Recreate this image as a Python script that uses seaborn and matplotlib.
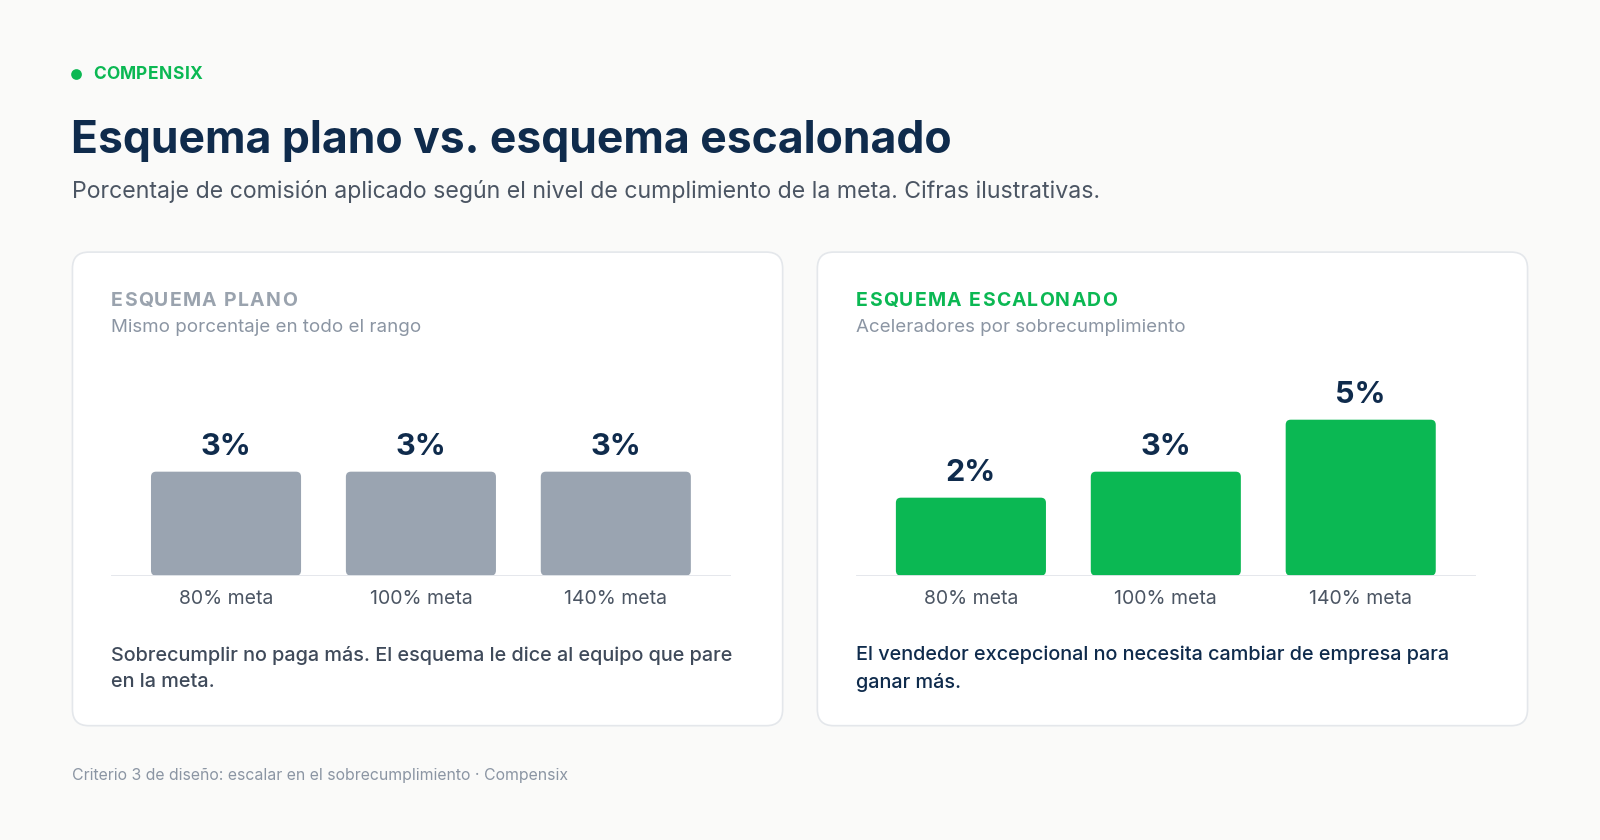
import numpy as np
import pandas as pd
import matplotlib
matplotlib.use("Agg")
import matplotlib.pyplot as plt
import seaborn as sns
from matplotlib.patches import FancyBboxPatch, Ellipse

# ---------------- data ----------------
categories = ["80% meta", "100% meta", "140% meta"]
plano_values = [3, 3, 3]
escalonado_values = [2, 3, 5]
plano_labels = ["3%", "3%", "3%"]
escalonado_labels = ["2%", "3%", "5%"]

brand = "COMPENSIX"
title = "Esquema plano vs. esquema escalonado"
subtitle = "Porcentaje de comisión aplicado según el nivel de cumplimiento de la meta. Cifras ilustrativas."
card_titles = ["ESQUEMA PLANO", "ESQUEMA ESCALONADO"]
card_subs = ["Mismo porcentaje en todo el rango", "Aceleradores por sobrecumplimiento"]
card_notes = ["Sobrecumplir no paga más. El esquema le dice al equipo que pare\nen la meta.",
              "El vendedor excepcional no necesita cambiar de empresa para\nganar más."]
footer = "Criterio 3 de diseño: escalar en el sobrecumplimiento · Compensix"

# ---------------- style ----------------
sns.set_theme(style="white")
plt.rcParams['font.family'] = ['Inter', 'DejaVu Sans']

BG = "#fafaf9"
NAVY = "#0f2b4c"
GREEN = "#0bb853"
GREY_BAR = "#9aa4b1"
SUB = "#4b5563"
MUTED = "#8b95a3"

W, H = 1568.0, 823.0
def fx(x): return x / W
def fy(y): return 1 - y / H

fig = plt.figure(figsize=(16, 8.4), dpi=100)
fig.patch.set_facecolor(BG)
renderer = fig.canvas.get_renderer()


def spaced_text(x, y, s, spacing, **kw):
    """Draw text char by char with extra letter spacing (x, spacing in ref px)."""
    cur = fx(x)
    for ch in s:
        t = fig.text(cur, y, ch, **kw)
        wpx = t.get_window_extent(renderer=renderer).width
        if ch == " ":
            wpx = t.get_fontsize() * 0.28 * 100 / 72
        cur += wpx / 1600 + spacing / W


# header
fig.patches.append(Ellipse((fx(75), fy(73)), 10.5 / W, 10.5 / H,
                           transform=fig.transFigure, facecolor=GREEN, edgecolor="none"))
spaced_text(91, fy(73), brand, 0.45, color=GREEN, fontsize=12.5, fontweight="bold",
            va="center", ha="left")
fig.text(fx(70), fy(150), title, color=NAVY, fontsize=32, fontweight="bold",
         va="baseline", ha="left")
fig.text(fx(71), fy(188), subtitle, color=SUB, fontsize=16.65, va="center", ha="left")

# cards
aspect = 1600 / 840
for x0 in (71, 801):
    card = FancyBboxPatch((fx(x0), fy(711)), fx(696), (711 - 247) / H,
                          boxstyle="round,pad=0,rounding_size=%f" % (16 / 1568),
                          mutation_aspect=aspect, transform=fig.transFigure,
                          facecolor="white", edgecolor="#e4e7eb", linewidth=1.2,
                          zorder=-5)
    fig.patches.append(card)

panels = [
    (109, plano_values, plano_labels, GREY_BAR, card_titles[0], "#9aa3ae", card_subs[0], card_notes[0], "#3f4a5a"),
    (839, escalonado_values, escalonado_labels, GREEN, card_titles[1], GREEN, card_subs[1], card_notes[1], NAVY),
]

YMIN, YMAX = -1.0, 6.5
for (left, vals, labs, color, ctitle, ctcolor, csub, cnote, notecolor) in panels:
    spaced_text(left, fy(294.5), ctitle, 1.15, color=ctcolor, fontsize=14, fontweight="bold",
                va="center", ha="left")
    fig.text(fx(left), fy(321), csub, color=MUTED, fontsize=13.5, va="center", ha="left")
    fig.text(fx(left), fy(655), cnote, color=notecolor, fontsize=14.3, fontweight="medium",
             va="center", ha="left", linespacing=1.6)

    ax = fig.add_axes([fx(left), fy(564), (607) / W, (564 - 373) / H])
    ax.set_facecolor("none")
    df = pd.DataFrame({"cat": categories, "val": vals})
    sns.barplot(data=df, x="cat", y="val", color=color, width=0.77, ax=ax,
                saturation=1, legend=False)
    ax.set_xlim(-0.589, 2.589)
    ax.set_ylim(YMIN, YMAX)
    # replace bars by rounded bars starting at the baseline
    xscale = 607 / 3.178
    yscale = 191 / (YMAX - YMIN)
    for p in list(ax.patches):
        x = p.get_x(); w = p.get_width(); top = p.get_y() + p.get_height()
        p.remove()
        rb = FancyBboxPatch((x, YMIN), w, top - YMIN,
                            boxstyle="round,pad=0,rounding_size=%f" % (5 / xscale),
                            mutation_aspect=xscale / yscale,
                            facecolor=color, edgecolor="none", zorder=2)
        ax.add_patch(rb)
    for i, (v, lab) in enumerate(zip(vals, labs)):
        ax.annotate(lab, (i, v), xytext=(0, 17.5), textcoords="offset points",
                    ha="center", va="center", fontsize=22, fontweight="bold", color=NAVY)
    ax.axhline(YMIN, color="#e2e5ea", linewidth=2, zorder=3)
    for s in ax.spines.values():
        s.set_visible(False)
    ax.set_yticks([])
    ax.set_xlabel(""); ax.set_ylabel("")
    ax.tick_params(axis="x", length=0, pad=10.5, labelsize=14, labelcolor=SUB)

fig.text(fx(71), fy(760), footer, color=MUTED, fontsize=11.4, va="center", ha="left")

fig.savefig("out.png", dpi=100, facecolor=BG)
